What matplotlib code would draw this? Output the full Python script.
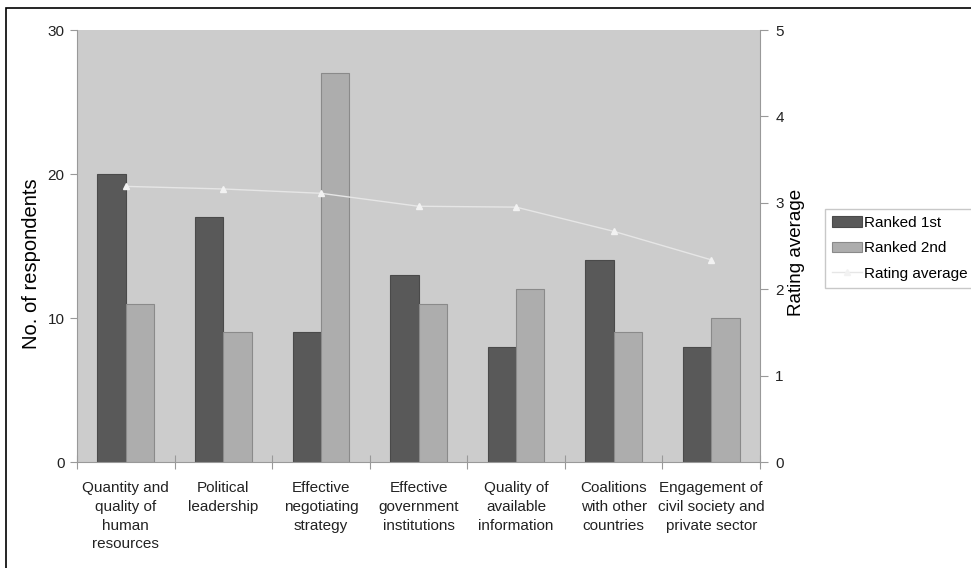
import numpy as np
import matplotlib.pyplot as plt
from matplotlib.patches import Rectangle

plt.rcParams['font.family'] = ['Liberation Sans', 'DejaVu Sans']

categories = ["Quantity and\nquality of\nhuman\nresources",
              "Political\nleadership",
              "Effective\nnegotiating\nstrategy",
              "Effective\ngovernment\ninstitutions",
              "Quality of\navailable\ninformation",
              "Coalitions\nwith other\ncountries",
              "Engagement of\ncivil society and\nprivate sector"]
ranked_1st = [20, 17, 9, 13, 8, 14, 8]
ranked_2nd = [11, 9, 27, 11, 12, 9, 10]
rating_avg = [3.19, 3.16, 3.11, 2.96, 2.95, 2.67, 2.34]

fig = plt.figure(figsize=(9.71, 5.68), dpi=100)
ax = fig.add_axes([77/971, 1 - 462/568, 683/971, 432/568])
ax.set_facecolor("#cccccc")

x = np.arange(len(categories))
w = 0.29
ax.bar(x - w/2, ranked_1st, w, color="#595959", edgecolor="#4a4a4a", linewidth=0.8,
       label="Ranked 1st", zorder=2)
ax.bar(x + w/2, ranked_2nd, w, color="#adadad", edgecolor="#8a8a8a", linewidth=0.8,
       label="Ranked 2nd", zorder=2)

ax.set_xlim(-0.5, len(categories) - 0.5)
ax.set_ylim(0, 30)
ax.set_yticks([0, 10, 20, 30])
ax.set_xticks(np.arange(len(categories) + 1) - 0.5)
ax.set_xticklabels([])
ax.set_xticks(x, minor=True)
ax.set_xticklabels(categories, minor=True, fontsize=11, color="#222222", linespacing=1.42)
ax.tick_params(axis="x", which="minor", length=0, pad=14)
ax.tick_params(axis="x", which="major", length=10, color="#999999", direction="inout")
ax.tick_params(axis="y", length=5, color="#999999", labelsize=11, pad=4, labelcolor="#222222")
ax.set_ylabel("No. of respondents", fontsize=14.5)
ax.yaxis.set_label_coords(-0.052, 0.46)

for s in ["top", "right"]:
    ax.spines[s].set_visible(False)
for s in ["left", "bottom"]:
    ax.spines[s].set_color("#999999")

ax2 = ax.twinx()
ax2.plot(x, rating_avg, color="#e6e6e6", linewidth=1, marker="^", markersize=5,
         markerfacecolor="#f2f2f2", markeredgecolor="#f2f2f2", label="Rating average", zorder=3)
ax2.set_ylim(0, 5)
ax2.set_yticks([0, 1, 2, 3, 4, 5])
ax2.tick_params(axis="y", length=6, color="#999999", labelsize=11, pad=5, labelcolor="#222222")
ax2.set_ylabel("Rating average", fontsize=13.5)
ax2.yaxis.set_label_coords(1.041, 0.484)
for s in ["top", "left", "bottom"]:
    ax2.spines[s].set_visible(False)
ax2.spines["right"].set_color("#999999")

h1, l1 = ax.get_legend_handles_labels()
h2, l2 = ax2.get_legend_handles_labels()
leg = fig.legend(h1 + h2, l1 + l2, loc="upper left", bbox_to_anchor=(825/971, 1 - 209/568),
                 fontsize=11, frameon=True, fancybox=False, edgecolor="#bbbbbb",
                 handlelength=2.0, handletextpad=0.1, borderpad=0.45, labelspacing=0.75,
                 borderaxespad=0)
leg.get_frame().set_linewidth(1)

fig.patches.append(Rectangle((6/971, -0.1), 1.2, 1 - 8/568 + 0.1, transform=fig.transFigure,
                             fill=False, edgecolor="black", linewidth=1.2))

fig.savefig("out.png", dpi=100)
